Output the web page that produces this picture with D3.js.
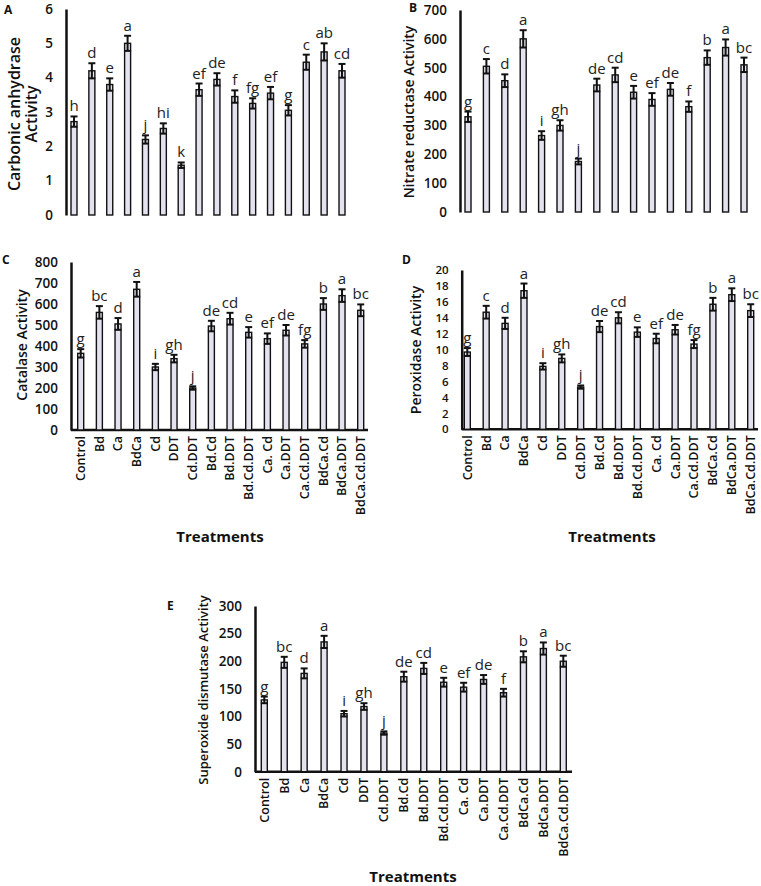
<!DOCTYPE html>
<html>
<head>
<meta charset="utf-8">
<script src="https://cdn.jsdelivr.net/npm/d3@7"></script>
<style>
  html, body { margin: 0; padding: 0; background: #fff; }
  svg { display: block; font-family: "Open Sans", "DejaVu Sans", sans-serif; }
</style>
</head>
<body>
<svg id="chart" width="761" height="886"></svg>
<script>
// ---------- DATA ----------
const categories = ["Control","Bd","Ca","BdCa","Cd","DDT","Cd.DDT","Bd.Cd","Bd.DDT","Bd.Cd.DDT","Ca. Cd","Ca.DDT","Ca.Cd.DDT","BdCa.Cd","BdCa.DDT","BdCa.Cd.DDT"];

const valuesA  = [2.72, 4.2, 3.8, 5.0, 2.2, 2.52, 1.45, 3.65, 3.95, 3.45, 3.25, 3.55, 3.05, 4.45, 4.75, 4.2];
const errorsA  = [0.15, 0.22, 0.18, 0.22, 0.12, 0.15, 0.08, 0.18, 0.18, 0.18, 0.15, 0.18, 0.15, 0.22, 0.25, 0.2];
const lettersA = ["h","d","e","a","j","hi","k","ef","de","f","fg","ef","g","c","ab","cd"];

const valuesB  = [330, 505, 455, 600, 265, 300, 175, 440, 475, 415, 390, 425, 365, 535, 570, 510];
const errorsB  = [18, 25, 22, 30, 15, 18, 10, 22, 25, 22, 22, 22, 18, 25, 28, 25];
const lettersB = ["g","c","d","a","i","gh","j","de","cd","e","ef","de","f","b","a","bc"];

const valuesC  = [365, 560, 505, 670, 300, 340, 200, 495, 530, 465, 435, 475, 410, 600, 640, 570];
const errorsC  = [20, 30, 28, 35, 15, 18, 8, 25, 28, 25, 25, 25, 18, 28, 30, 28];
const lettersC = ["g","bc","d","a","i","gh","j","de","cd","e","ef","de","fg","b","a","bc"];

const valuesD  = [9.7, 14.7, 13.3, 17.4, 7.9, 8.9, 5.3, 12.9, 14.0, 12.2, 11.4, 12.5, 10.7, 15.7, 16.9, 14.9];
const errorsD  = [0.5, 0.8, 0.7, 0.9, 0.4, 0.5, 0.2, 0.7, 0.7, 0.6, 0.6, 0.6, 0.5, 0.8, 0.8, 0.8];
const lettersD = ["g","c","d","a","i","gh","j","de","cd","e","ef","de","fg","b","a","bc"];

const valuesE  = [130, 198, 178, 235, 105, 118, 70, 172, 187, 162, 153, 167, 143, 208, 223, 200];
const errorsE  = [6, 10, 9, 11, 5, 6, 3, 9, 10, 8, 8, 8, 7, 10, 11, 10];
const lettersE = ["g","bc","d","a","i","gh","j","de","cd","e","ef","de","f","b","a","bc"];

const ticksA = [0,1,2,3,4,5,6];
const ticksB = [0,100,200,300,400,500,600,700];
const ticksC = [0,100,200,300,400,500,600,700,800];
const ticksD = [0,2,4,6,8,10,12,14,16,18,20];
const ticksE = [0,50,100,150,200,250,300];

// ---------- DRAW ----------
const svg = d3.select("#chart");
const BAR_FILL = "#e4e2ee";
const INK = "#111";

function panel(cfg) {
  const g = svg.append("g");
  const y = d3.scaleLinear().domain([0, cfg.max]).range([cfg.y0, cfg.y1]);
  const x = d3.scalePoint().domain(categories).range([cfg.xFirst, cfg.xLast]);
  const bw = 6;

  // panel letter
  g.append("text").attr("x", cfg.lx).attr("y", cfg.ly)
    .attr("font-size", 12).attr("font-weight", 700).attr("fill", INK).text(cfg.letter);

  // y axis
  const ax = g.append("g").attr("transform", `translate(${cfg.axisX},0)`)
    .call(d3.axisLeft(y).tickValues(cfg.ticks).tickSize(0).tickPadding(13).tickFormat(d3.format("d")));
  ax.select(".domain").attr("stroke", INK).attr("stroke-width", 2.5);
  ax.selectAll(".tick text").attr("font-size", cfg.tickSize || 13.5).attr("font-weight", 600).attr("fill", "#111")
    .attr("font-family", "'Open Sans', sans-serif");

  // x axis line
  if (cfg.xAxisEnd) {
    g.append("line").attr("x1", cfg.axisX).attr("x2", cfg.xAxisEnd)
      .attr("y1", y(0)).attr("y2", y(0)).attr("stroke", INK).attr("stroke-width", 2.5);
    g.selectAll("text.cat").data(categories).join("text").attr("class", "cat")
      .attr("transform", d => `translate(${x(d)},${y(0) + 6}) rotate(-90)`)
      .attr("text-anchor", "end").attr("dy", "0.35em")
      .attr("font-size", 12.5).attr("font-weight", 600).attr("fill", "#111").text(d => d);
    g.append("text").attr("x", cfg.tx).attr("y", cfg.ty).attr("text-anchor", "middle")
      .attr("font-size", 15).attr("font-weight", 700).attr("fill", INK).text("Treatments");
  }

  // bars
  g.selectAll("rect.bar").data(cfg.values).join("rect").attr("class", "bar")
    .attr("x", (d, i) => x(categories[i]) - bw / 2).attr("width", bw)
    .attr("y", d => y(d)).attr("height", d => y(0) - y(d))
    .attr("fill", BAR_FILL).attr("stroke", INK).attr("stroke-width", 1.4);

  // error bars
  const eb = g.selectAll("g.err").data(cfg.values).join("g").attr("class", "err");
  eb.append("line").attr("x1", (d, i) => x(categories[i])).attr("x2", (d, i) => x(categories[i]))
    .attr("y1", (d, i) => y(d - cfg.errors[i])).attr("y2", (d, i) => y(d + cfg.errors[i]))
    .attr("stroke", INK).attr("stroke-width", 2);
  eb.append("line").attr("x1", (d, i) => x(categories[i]) - 3.5).attr("x2", (d, i) => x(categories[i]) + 3.5)
    .attr("y1", (d, i) => y(d + cfg.errors[i])).attr("y2", (d, i) => y(d + cfg.errors[i]))
    .attr("stroke", INK).attr("stroke-width", 2);
  eb.append("line").attr("x1", (d, i) => x(categories[i]) - 3.5).attr("x2", (d, i) => x(categories[i]) + 3.5)
    .attr("y1", (d, i) => y(d - cfg.errors[i])).attr("y2", (d, i) => y(d - cfg.errors[i]))
    .attr("stroke", INK).attr("stroke-width", 2);

  // significance letters
  g.selectAll("text.sig").data(cfg.letters).join("text").attr("class", "sig")
    .attr("x", (d, i) => x(categories[i])).attr("y", (d, i) => y(cfg.values[i] + cfg.errors[i]) - 5)
    .attr("text-anchor", "middle").attr("font-size", 15).attr("fill", "#222").text(d => d);

  // y title
  const yt = g.append("text").attr("transform", `translate(${cfg.ytx},${cfg.yty}) rotate(-90)`)
    .attr("text-anchor", "middle").attr("font-size", cfg.ytSize).attr("font-weight", 600).attr("fill", INK);
  cfg.yTitle.forEach((t, k) => {
    yt.append("tspan").attr("x", 0).attr("dy", k === 0 ? 0 : "1.05em").text(t);
  });
}

panel({letter: "A", lx: 4, ly: 14, max: 6, y0: 215, y1: 9, xFirst: 74, xLast: 342, axisX: 66,
  ticks: ticksA, values: valuesA, errors: errorsA, letters: lettersA,
  yTitle: ["Carbonic anhydrase", "Activity"], ytx: 20, yty: 114, ytSize: 16});

panel({letter: "B", lx: 409, ly: 12, max: 700, y0: 212, y1: 10, xFirst: 468, xLast: 744, axisX: 460,
  ticks: ticksB, values: valuesB, errors: errorsB, letters: lettersB,
  yTitle: ["Nitrate reductase Activity"], ytx: 414, yty: 112, ytSize: 14});

panel({letter: "C", lx: 2, ly: 264, max: 800, y0: 430, y1: 262, xFirst: 80.7, xLast: 360.7, axisX: 71,
  xAxisEnd: 368, tx: 220, ty: 542,
  ticks: ticksC, values: valuesC, errors: errorsC, letters: lettersC,
  yTitle: ["Catalase Activity"], ytx: 27, yty: 345, ytSize: 14});

panel({letter: "D", lx: 402, ly: 264, max: 20, y0: 429.3, y1: 270, xFirst: 467.3, xLast: 750.7, axisX: 461.7,
  xAxisEnd: 758, tx: 612, ty: 542, tickSize: 11.5,
  ticks: ticksD, values: valuesD, errors: errorsD, letters: lettersD,
  yTitle: ["Peroxidase Activity"], ytx: 421, yty: 350, ytSize: 14});

panel({letter: "E", lx: 167, ly: 610, max: 300, y0: 771.7, y1: 606, xFirst: 264.3, xLast: 563.3, axisX: 255,
  xAxisEnd: 572, tx: 413, ty: 882,
  ticks: ticksE, values: valuesE, errors: errorsE, letters: lettersE,
  yTitle: ["Superoxide dismutase Activity"], ytx: 208, yty: 690, ytSize: 13});
</script>
</body>
</html>
